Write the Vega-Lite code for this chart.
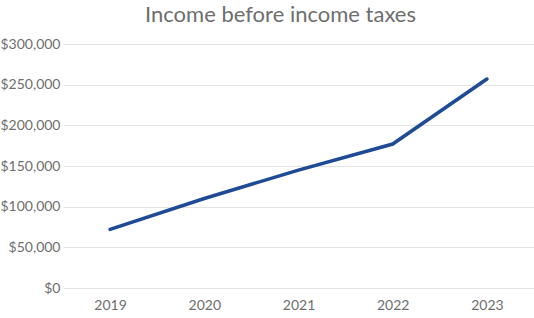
{
  "$schema": "https://vega.github.io/schema/vega-lite/v6.json",
  "width": 471,
  "height": 244,
  "autosize": {"type": "none"},
  "padding": {"left": 63, "top": 44, "right": 0, "bottom": 30},
  "background": "white",
  "title": {
    "text": "Income before income taxes",
    "fontSize": 22,
    "font": "Lato",
    "fontWeight": "normal",
    "color": "#6e6e6e",
    "anchor": "middle",
    "dx": -18,
    "offset": 10
  },
  "data": {
    "values": [
      {"year": "2019", "income": 72000},
      {"year": "2020", "income": 110000},
      {"year": "2021", "income": 145000},
      {"year": "2022", "income": 177000},
      {"year": "2023", "income": 257000}
    ]
  },
  "mark": {"type": "line", "color": "#1f4a96", "strokeWidth": 3.5, "strokeCap": "round"},
  "encoding": {
    "x": {
      "field": "year",
      "type": "ordinal",
      "scale": {"type": "point", "padding": 0.5},
      "axis": {"title": null, "labelAngle": 0, "domain": false, "ticks": false, "labelPadding": 10, "labelFontSize": 14, "labelFont": "Lato", "labelColor": "#6e6e6e", "grid": false}
    },
    "y": {
      "field": "income",
      "type": "quantitative",
      "scale": {"domain": [0, 300000]},
      "axis": {"title": null, "values": [0, 50000, 100000, 150000, 200000, 250000, 300000], "format": "$,.0f", "domain": false, "ticks": false, "labelPadding": 3, "labelFontSize": 14, "labelFont": "Lato", "labelColor": "#6e6e6e", "gridColor": "#e3e3e3", "gridWidth": 1}
    }
  },
  "config": {"view": {"stroke": null}}
}
